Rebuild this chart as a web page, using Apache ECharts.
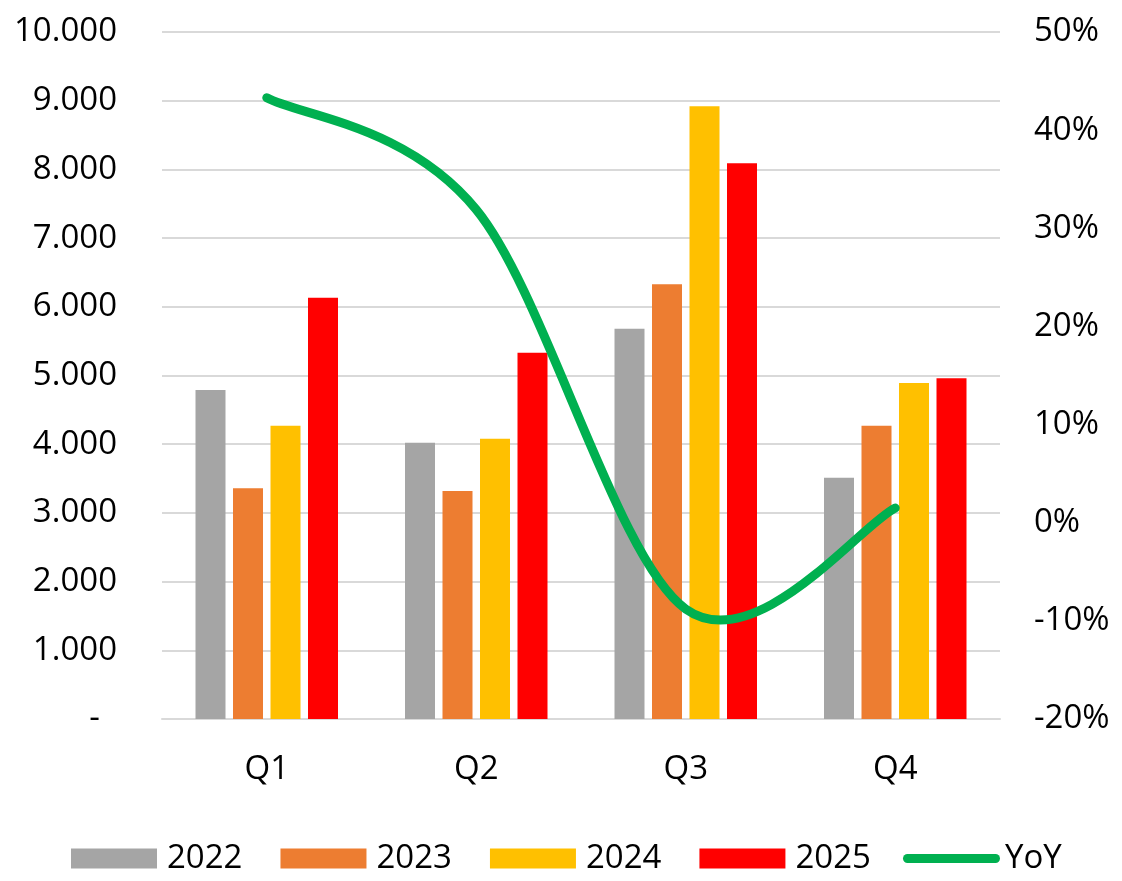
<!DOCTYPE html>
<html>
<head>
<meta charset="utf-8">
<script src="https://cdn.jsdelivr.net/npm/echarts@6/dist/echarts.min.js"></script>
<style>
html,body{margin:0;padding:0;background:#fff;}
#chart{width:1122px;height:881px;}
</style>
</head>
<body>
<div id="chart"></div>
<script>
const categories = ['Q1', 'Q2', 'Q3', 'Q4'];
const years = ['2022', '2023', '2024', '2025'];
const s2022 = [4790, 4020, 5680, 3510];
const s2023 = [3360, 3320, 6330, 4270];
const s2024 = [4270, 4080, 8920, 4890];
const s2025 = [6130, 5330, 8090, 4960];
const yoy = [43.3, 31.9, -8.8, 1.5];
const barColors = ['#A5A5A5', '#ED7D31', '#FFC000', '#FF0000'];
const lineColor = '#00B050';

const FONT = 'Open Sans';
const FS = 33;

const chart = echarts.init(document.getElementById('chart'));
const barData = [s2022, s2023, s2024, s2025];
const series = years.map((y, i) => ({
  name: y,
  type: 'bar',
  yAxisIndex: 0,
  data: barData[i],
  barWidth: 30,
  barGap: '25%',
  itemStyle: { color: barColors[i] },
  animation: false
}));

// Excel-style smoothed line (Catmull-Rom bezier) drawn through the axes' own scales
series.push({
  name: 'YoY',
  type: 'custom',
  coordinateSystem: 'cartesian2d',
  yAxisIndex: 1,
  data: yoy.map((v, i) => [i, v]),
  encode: { x: 0, y: 1 },
  itemStyle: { color: lineColor },
  z: 5,
  animation: false,
  renderItem: function (params, api) {
    if (params.dataIndex !== 0) return null;
    const pts = yoy.map((v, i) => api.coord([i, v]));
    const n = pts.length;
    let d = 'M' + pts[0][0] + ' ' + pts[0][1];
    for (let i = 0; i < n - 1; i++) {
      const p0 = pts[Math.max(i - 1, 0)];
      const p1 = pts[i];
      const p2 = pts[i + 1];
      const p3 = pts[Math.min(i + 2, n - 1)];
      const c1x = p1[0] + (p2[0] - p0[0]) / 6;
      const c1y = p1[1] + (p2[1] - p0[1]) / 6;
      const c2x = p2[0] - (p3[0] - p1[0]) / 6;
      const c2y = p2[1] - (p3[1] - p1[1]) / 6;
      d += ' C' + c1x + ' ' + c1y + ' ' + c2x + ' ' + c2y + ' ' + p2[0] + ' ' + p2[1];
    }
    return {
      type: 'path',
      shape: { pathData: d },
      style: { stroke: lineColor, fill: 'none', lineWidth: 9, lineCap: 'round', lineJoin: 'round' }
    };
  }
});

function thousands(v) {
  if (v === 0) return '-  ';
  return String(v).replace(/\B(?=(\d{3})+(?!\d))/g, '.');
}

chart.setOption({
  animation: false,
  textStyle: { fontFamily: FONT },
  grid: { left: 162, right: 122, top: 32, bottom: 162, containLabel: false },
  legend: [
    {
      data: years,
      left: 71,
      top: 842,
      padding: 0,
      itemWidth: 86,
      itemHeight: 20,
      itemGap: 38,
      icon: 'rect',
      textStyle: { fontFamily: FONT, fontSize: FS, color: '#000', padding: [0, 0, 0, 5] }
    },
    {
      data: [{ name: 'YoY', icon: 'path://M4.5,0H92.5A4.5,4.5,0,0,1,92.5,9H4.5A4.5,4.5,0,0,1,4.5,0Z' }],
      left: 903,
      top: 842,
      padding: 0,
      itemWidth: 97,
      itemHeight: 9,
      textStyle: { fontFamily: FONT, fontSize: FS, color: '#000' }
    }
  ],
  xAxis: {
    type: 'category',
    data: categories,
    axisLine: { lineStyle: { color: '#D9D9D9', width: 2 } },
    axisTick: { show: false },
    axisLabel: { fontFamily: FONT, fontSize: FS, color: '#000', margin: 34 }
  },
  yAxis: [
    {
      type: 'value',
      min: 0,
      max: 10000,
      interval: 1000,
      axisLine: { show: false },
      axisTick: { show: false },
      splitLine: { lineStyle: { color: '#D9D9D9', width: 2 } },
      axisLabel: { fontFamily: FONT, fontSize: FS, color: '#000', margin: 45, formatter: thousands }
    },
    {
      type: 'value',
      min: -20,
      max: 50,
      interval: 10,
      position: 'right',
      axisLine: { show: false },
      axisTick: { show: false },
      splitLine: { show: false },
      axisLabel: { fontFamily: FONT, fontSize: FS, color: '#000', margin: 34, formatter: '{value}%' }
    }
  ],
  series: series
});
</script>
</body>
</html>
